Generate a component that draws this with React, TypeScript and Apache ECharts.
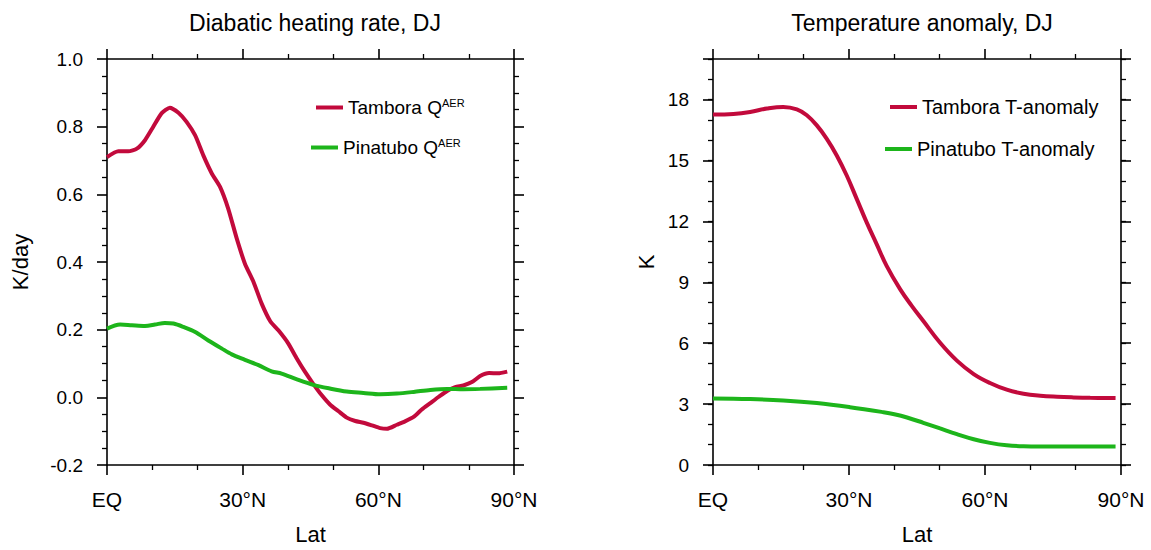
import React, { useEffect, useRef } from "react";
import * as echarts from "echarts";

// Left panel: diabatic heating rate (K/day)
const latQTambora = [0, 2.5, 4.7, 6.6, 8.4, 10.2, 12.1, 13.9, 15.8, 17.6, 19.5, 21.3, 23.2, 25.0, 26.8, 28.7, 30.5, 32.4, 34.2, 36.1, 37.9, 40.1, 42.0, 43.8, 45.6, 47.5, 49.3, 51.2, 53.0, 54.9, 56.7, 58.6, 60.4, 61.9, 64.1, 65.9, 67.8, 69.6, 71.5, 73.3, 75.2, 77.0, 78.8, 80.7, 82.5, 84.5, 86.5, 88.5];
const qTambora = [0.710, 0.727, 0.727, 0.735, 0.760, 0.799, 0.840, 0.856, 0.841, 0.814, 0.774, 0.715, 0.661, 0.622, 0.558, 0.469, 0.395, 0.341, 0.277, 0.225, 0.198, 0.159, 0.114, 0.075, 0.040, 0.006, -0.021, -0.041, -0.060, -0.070, -0.075, -0.083, -0.091, -0.093, -0.081, -0.071, -0.058, -0.036, -0.017, 0.001, 0.019, 0.030, 0.035, 0.045, 0.063, 0.072, 0.071, 0.076];
const latQPinatubo = [0, 2.9, 5.5, 8.4, 10.6, 12.8, 14.7, 16.9, 19.5, 22.4, 25.4, 27.6, 30.5, 33.5, 36.4, 38.6, 42.0, 45.6, 49.3, 53.0, 56.7, 60.4, 64.1, 67.8, 71.5, 75.2, 78.8, 82.5, 88.5];
const qPinatubo = [0.203, 0.215, 0.213, 0.211, 0.215, 0.220, 0.218, 0.208, 0.193, 0.168, 0.144, 0.127, 0.111, 0.095, 0.077, 0.070, 0.053, 0.037, 0.026, 0.017, 0.013, 0.009, 0.011, 0.016, 0.022, 0.025, 0.024, 0.025, 0.028];

// Right panel: temperature anomaly (K)
const latTTambora = [0, 4.5, 8.2, 11.9, 15.5, 18.5, 20.7, 22.9, 25.1, 27.3, 29.5, 31.7, 33.9, 36.1, 38.3, 41.3, 43.8, 46.4, 50.1, 53.8, 57.5, 61.1, 64.8, 68.5, 72.2, 75.9, 79.5, 83.2, 88.8];
const tTambora = [17.26, 17.29, 17.39, 17.56, 17.64, 17.52, 17.23, 16.73, 16.07, 15.25, 14.26, 13.11, 11.95, 10.88, 9.81, 8.65, 7.85, 7.09, 6.02, 5.14, 4.48, 4.04, 3.71, 3.51, 3.41, 3.36, 3.33, 3.31, 3.30];
const latTPinatubo = [0, 8.2, 15.5, 22.9, 30.2, 37.6, 40.0, 42.8, 46.4, 50.1, 53.8, 57.5, 61.1, 64.8, 68.5, 72.2, 83.2, 88.8];
const tPinatubo = [3.28, 3.25, 3.18, 3.05, 2.85, 2.60, 2.50, 2.34, 2.08, 1.80, 1.52, 1.27, 1.09, 0.97, 0.92, 0.91, 0.91, 0.91];

const titles = ["Diabatic heating rate, DJ", "Temperature anomaly, DJ"];
const latTickLabels: Record<number, string> = { 0: "EQ", 30: "30°N", 60: "60°N", 90: "90°N" };

const RED = "#c20a3c";
const GREEN = "#1db51b";
const FONT = "Liberation Sans, Arial, Helvetica, sans-serif";

const zip = (xs: number[], ys: number[]) => xs.map((x, i) => [x, ys[i]]);

export default function App() {
  const ref = useRef<HTMLDivElement>(null);
  useEffect(() => {
    document.body.style.margin = "0";
    const chart = echarts.init(ref.current!, null, { renderer: "svg" });
    const lineStyle = { color: "#000", width: 1.6 };
    const xAxis = (gridIndex: number, position: string, labels: boolean) => ({
      type: "value",
      gridIndex,
      position,
      min: 0,
      max: 90,
      interval: 30,
      axisLine: { show: true, onZero: false, lineStyle },
      axisTick: { show: true, inside: false, length: 10, lineStyle },
      minorTick: { show: true, splitNumber: 3, length: 5, lineStyle: { color: "#000", width: 1.3 } },
      splitLine: { show: false },
      axisLabel: {
        show: labels,
        margin: 24,
        fontSize: 21,
        color: "#000",
        fontFamily: FONT,
        formatter: (v: number) => latTickLabels[v] ?? "",
      },
      name: labels ? "Lat" : "",
      nameLocation: "middle",
      nameGap: 58,
      nameTextStyle: { fontSize: 22, color: "#000", fontFamily: FONT },
    });
    const yLeftQ = (position: string, labels: boolean) => ({
      type: "value",
      gridIndex: 0,
      position,
      min: -0.2,
      max: 1.0,
      interval: 0.2,
      axisLine: { show: true, onZero: false, lineStyle },
      axisTick: { show: true, inside: false, length: 10, lineStyle },
      minorTick: { show: true, splitNumber: 4, length: 5, lineStyle: { color: "#000", width: 1.3 } },
      splitLine: { show: false },
      axisLabel: {
        show: labels,
        margin: 24,
        fontSize: 19,
        color: "#000",
        fontFamily: FONT,
        formatter: (v: number) => v.toFixed(1),
      },
      name: labels ? "K/day" : "",
      nameLocation: "middle",
      nameGap: 76,
      nameTextStyle: { fontSize: 22, color: "#000", fontFamily: FONT },
    });
    const yT = (position: string, major: boolean, labels: boolean) => ({
      type: "value",
      gridIndex: 1,
      position,
      min: 0,
      max: 20,
      interval: major ? 3 : 1,
      axisLine: { show: major, onZero: false, lineStyle },
      axisTick: { show: true, inside: false, length: major ? 10 : 5, lineStyle: { color: "#000", width: major ? 1.6 : 1.3 } },
      splitLine: { show: false },
      axisLabel: {
        show: labels,
        margin: 24,
        fontSize: 19,
        color: "#000",
        fontFamily: FONT,
        formatter: (v: number) => (v % 3 === 0 ? String(v) : ""),
      },
      name: labels ? "K" : "",
      nameLocation: "middle",
      nameGap: 56,
      nameTextStyle: { fontSize: 22, color: "#000", fontFamily: FONT },
    });
    const legendText = {
      fontSize: 19,
      color: "#000",
      fontFamily: FONT,
      rich: { sup: { fontSize: 11, color: "#000", fontFamily: FONT, padding: [0, 0, 10, 0] } },
    };
    const legend = (name: string, left: number, top: number, fontSize: number) => ({
      data: [{ name, icon: "rect" }],
      left,
      top,
      padding: 0,
      itemWidth: 27,
      itemHeight: 4,
      itemGap: 0,
      selectedMode: false,
      textStyle: { ...legendText, fontSize },
      formatter: (n: string) => (n.endsWith(" Q") ? n + "{sup|AER}" : n),
    });
    const series = (name: string, xi: number, yi: number, data: number[][], color: string, smooth: number | boolean) => ({
      type: "line",
      name,
      xAxisIndex: xi,
      yAxisIndex: yi,
      data,
      showSymbol: false,
      symbol: "none",
      smooth,
      lineStyle: { color, width: 4 },
      itemStyle: { color },
    });
    const titleStyle = { fontSize: 23, fontWeight: "normal", color: "#000", fontFamily: FONT };
    chart.setOption({
      animation: false,
      backgroundColor: "#fff",
      title: [
        { text: titles[0], left: 310, top: 6, textAlign: "center", textStyle: titleStyle },
        { text: titles[1], left: 917, top: 6, textAlign: "center", textStyle: titleStyle },
      ],
      grid: [
        { left: 107, top: 59, width: 407, height: 406 },
        { left: 713, top: 59, width: 408, height: 406 },
      ],
      xAxis: [xAxis(0, "bottom", true), xAxis(0, "top", false), xAxis(1, "bottom", true), xAxis(1, "top", false)],
      yAxis: [
        yLeftQ("left", true),
        yLeftQ("right", false),
        yT("left", true, true),
        yT("left", false, false),
        yT("right", true, false),
        yT("right", false, false),
      ],
      legend: [
        legend("Tambora Q", 316, 97, 19),
        legend("Pinatubo Q", 311, 137, 19),
        legend("Tambora T-anomaly", 890, 97, 20),
        legend("Pinatubo T-anomaly", 885, 139, 20),
      ],
      series: [
        series("Tambora Q", 0, 0, zip(latQTambora, qTambora), RED, 0.2),
        series("Pinatubo Q", 0, 0, zip(latQPinatubo, qPinatubo), GREEN, 0.3),
        series("Tambora T-anomaly", 2, 2, zip(latTTambora, tTambora), RED, 0.4),
        series("Pinatubo T-anomaly", 2, 2, zip(latTPinatubo, tPinatubo), GREEN, 0.4),
      ],
    });
    return () => chart.dispose();
  }, []);
  return <div ref={ref} style={{ width: 1151, height: 550 }} />;
}
